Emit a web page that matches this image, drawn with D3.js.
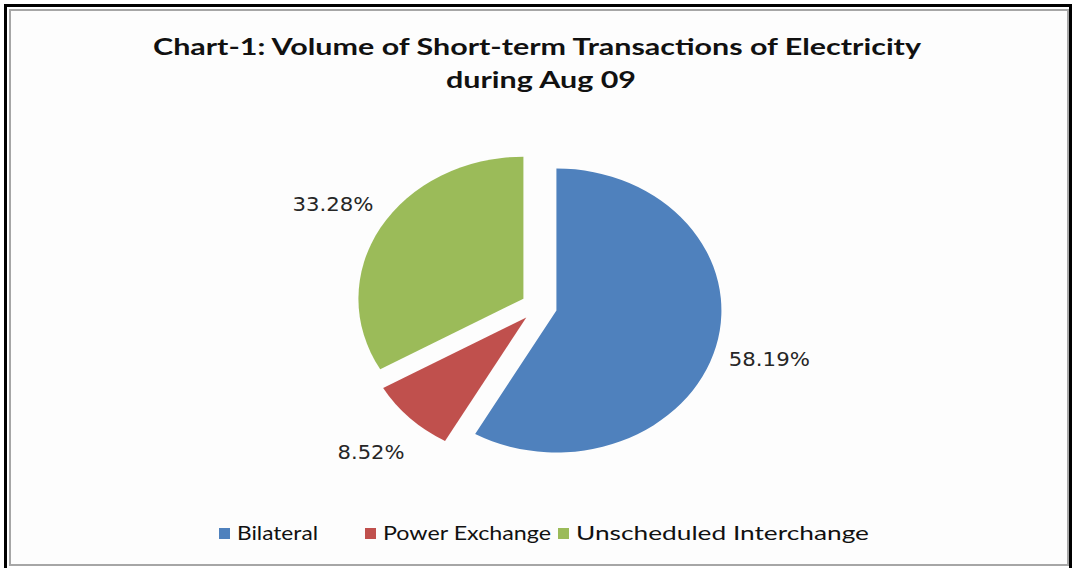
<!DOCTYPE html>
<html>
<head>
<meta charset="utf-8">
<script src="https://cdn.jsdelivr.net/npm/d3@7"></script>
<style>
	body { margin: 0; background: #fff; }
	text { font-family: Lato, "DejaVu Sans", sans-serif; }
	text.label { font-family: "DejaVu Sans", sans-serif; }
</style>
</head>
<body>
<div id="graph"></div>
<script>
var	SVGwidth = 1073,
	SVGheight = 568;

// chart data
var categories = ["Bilateral", "Power Exchange", "Unscheduled Interchange"],
	shares = [58.19, 8.52, 33.28],
	shareLabels = ["58.19%", "8.52%", "33.28%"],
	colors = ["#4F81BD", "#C0504D", "#9BBB59"],
	titleLines = ["Chart-1: Volume of Short-term Transactions of Electricity", "during Aug 09"];

var cx = 539, cy = 306.5,
	radius = 142,
	stretch = 1.162,   // pie is drawn wider than tall
	explode = 15.5,
	labelR = 205;

var svg = d3.select('div#graph')
				.append('svg')
				.attr('width', SVGwidth)
				.attr('height', SVGheight);

// frame
svg.append("rect")
	.attr("x", 5.5).attr("y", 5.5)
	.attr("width", 1065).attr("height", 580)
	.attr("fill", "#fff")
	.attr("stroke", "#000")
	.attr("stroke-width", 3);
svg.append("rect")
	.attr("x", 10).attr("y", 10)
	.attr("width", 1058).attr("height", 555)
	.attr("fill", "#fdfdfd")
	.attr("stroke", "#a6a6a6")
	.attr("stroke-width", 2);

// title
svg.selectAll("text.title")
	.data(titleLines)
	.enter()
	.append("text")
	.attr("class", "title")
	.attr("x", function(d, i) { return i == 0 ? 537 : 541; })
	.attr("y", function(d, i) { return 55 + i * 33; })
	.attr("text-anchor", "middle")
	.attr("font-size", 23)
	.attr("font-weight", "bold")
	.attr("textLength", function(d, i) { return i == 0 ? 768 : 190; })
	.attr("lengthAdjust", "spacingAndGlyphs")
	.attr("fill", "#111")
	.text(function(d) { return d; });

var pie = d3.pie()
	.sort(null)
	.value(function(d) { return d; });

var arc = d3.arc()
	.innerRadius(0)
	.outerRadius(radius);

var arcs = pie(shares);

var g = svg.append("g")
	.attr("transform", "translate(" + cx + "," + cy + ") scale(" + stretch + ",1)");

g.selectAll("path")
	.data(arcs)
	.enter()
	.append("path")
	.attr("d", arc)
	.attr("fill", function(d, i) { return colors[i]; })
	.attr("transform", function(d) {
		var a = (d.startAngle + d.endAngle) / 2;
		return "translate(" + (Math.sin(a) * explode) + "," + (-Math.cos(a) * explode) + ")";
	});

// data labels
svg.selectAll("text.label")
	.data(arcs)
	.enter()
	.append("text")
	.attr("class", "label")
	.attr("x", function(d) { var a = (d.startAngle + d.endAngle) / 2; return cx + Math.sin(a) * labelR * stretch; })
	.attr("y", function(d) { var a = (d.startAngle + d.endAngle) / 2; return cy - Math.cos(a) * labelR; })
	.attr("text-anchor", "middle")
	.attr("dominant-baseline", "central")
	.attr("font-size", 19)
	.attr("textLength", function(d, i) { return i == 1 ? 67 : 81; })
	.attr("lengthAdjust", "spacingAndGlyphs")
	.attr("fill", "#262626")
	.text(function(d, i) { return shareLabels[i]; });

// legend
var legendX = [219, 365, 558],
	legendW = [81, 168, 293];

var legend = svg.selectAll("g.legend")
	.data(categories)
	.enter()
	.append("g")
	.attr("class", "legend")
	.attr("transform", function(d, i) { return "translate(" + legendX[i] + ",528)"; });

legend.append("rect")
	.attr("width", 11)
	.attr("height", 11)
	.attr("fill", function(d, i) { return colors[i]; });

legend.append("text")
	.attr("x", 18)
	.attr("y", 12)
	.attr("font-size", 19)
	.attr("textLength", function(d, i) { return legendW[i]; })
	.attr("lengthAdjust", "spacingAndGlyphs")
	.attr("fill", "#111")
	.text(function(d) { return d; });
</script>
</body>
</html>
